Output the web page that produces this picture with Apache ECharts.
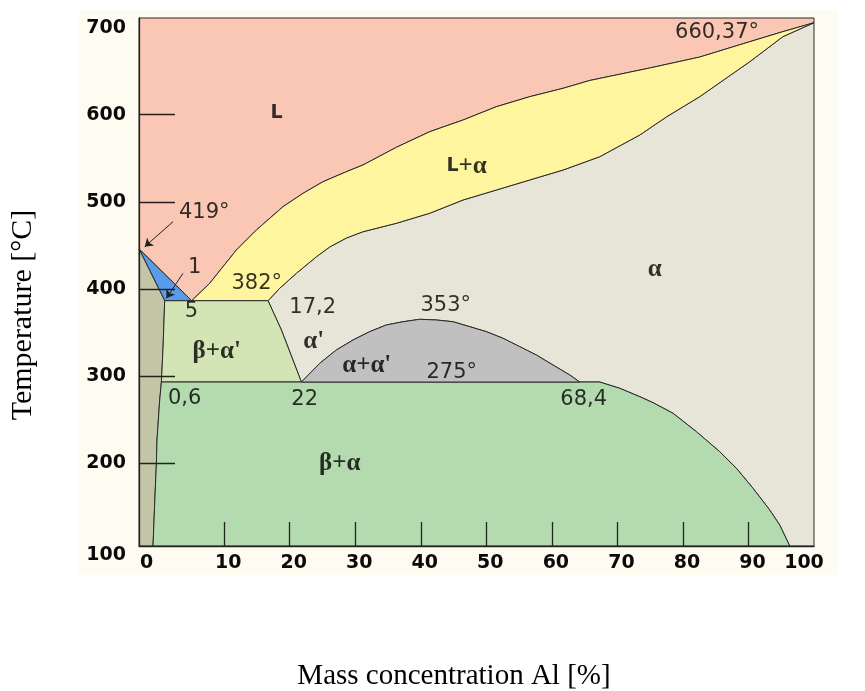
<!DOCTYPE html>
<html>
<head>
<meta charset="utf-8">
<script src="https://cdn.jsdelivr.net/npm/echarts@6/dist/echarts.min.js"></script>
<style>
html,body{margin:0;padding:0;background:#ffffff;}
#chart{width:865px;height:691px;}
</style>
</head>
<body>
<div id="chart"></div>
<script>
// ---------- tick values ----------
const xTickValues = [0, 10, 20, 30, 40, 50, 60, 70, 80, 90, 100];
const xTickMarks = [10, 20, 30, 40, 50, 60, 70, 80, 90];
const yTickMarks = [200, 300, 400, 500, 600];
const yLabelValues = [200, 300, 400, 500, 600, 700];
const yBottomLabel = [100];

// ---------- characteristic points ----------
const zincMelt = [-3, 446];            // 419°
const eutecticPt = [5.04, 386.5];      // 5 %, 382°
const betaEutecticPt = [0.92, 386.5];  // 1 %
const alMelt = [100, 705.6];           // 660,37°

// ---------- boundary curves ----------
const liquidusAl = [
  [5.04, 386.5], [7.79, 406.5], [11.86, 444.7], [14.92, 467.7], [18.97, 494.4],
  [22.03, 509.8], [25.08, 523.1], [28.65, 534.6], [31.18, 542.3], [36.28, 562.6],
  [41.36, 580.5], [46.44, 593.9], [51.54, 609.2], [56.62, 620.7], [61.7, 630.3],
  [65.78, 639.3], [74.93, 653.6], [82.56, 666.2], [90.19, 683.8], [95.23, 695.3],
  [100, 705.6]
];
const solidusAl = [
  [16.69, 386.5], [18.47, 400.8], [21.02, 418], [24.07, 437], [26.1, 448.2],
  [28.65, 458.5], [31.18, 465.7], [36.28, 475.4], [41.36, 486.9], [46.44, 502.1],
  [51.54, 513.6], [56.62, 525.1], [61.7, 536.5], [67.3, 551.8], [73.41, 576.7],
  [77.53, 597.7], [82.56, 620.7], [90.19, 660.8], [95.23, 689.5], [100, 705.6]
];
const alphaPrimeLine = [[16.69, 386.5], [18.73, 352.9], [21.78, 293.2]];
const miscibilityDome = [
  [21.78, 293.2], [24.58, 314.7], [27.12, 330], [29.66, 341.4], [32.2, 351],
  [34.75, 358.7], [37.29, 362.4], [39.84, 365.2], [42.38, 364.4], [44.92, 362.4],
  [47.47, 356.7], [50.01, 351], [52.55, 343.4], [55.1, 333.8], [57.64, 324.2],
  [60.18, 312.7], [62.73, 301.3], [64.25, 293.2]
];
const alphaSolvus = [
  [67.3, 293.2], [70.36, 286], [73.41, 276.4], [75.44, 269.5], [78.49, 257.3],
  [82.06, 236.2], [85.62, 213.2], [88.16, 194.2], [90.7, 171.2], [93.25, 146.3],
  [94.77, 129.1], [96.3, 105]
];
const betaSolvusUpper = [[0.92, 386.5], [0.69, 335.7], [0.42, 293.2]];
const betaSolvusLower = [[0.42, 293.2], [0.16, 272.6], [-0.25, 226.7], [-0.34, 200.3], [-0.6, 154.4], [-0.86, 105]];

// ---------- annotations [x, y, text] ----------
const valueNotes = [
  [85.2, 693.8, '660,37°'], [6.95, 487.2, '419°'], [5.5, 424.1, '1'],
  [14.96, 405.7, '382°'], [5.0, 373.9, '5'], [23.5, 378.2, '17,2'],
  [43.8, 380.5, '353°'], [44.72, 303.6, '275°'], [22.29, 272.6, '22'],
  [64.86, 272.6, '68,4'], [3.97, 273.7, '0,6']
];
const phaseNotes = [
  [18.0, 602, 'L'], [47.0, 541, 'L+α'], [75.7, 421.8, 'α'], [23.66, 339.1, "α'"],
  [31.75, 311.6, "α+α'"], [8.86, 327.7, "β+α'"], [27.63, 199.1, 'β+α']
];
const arrows = [
  [[2.19, 477.2], [-2.13, 448.5]],
  [[3.71, 418.0], [1.18, 389.3]]
];

// ---------- axis extents ----------
const X0 = -3, X1 = 100, Y0 = 105, Y1 = 711;

const rev = a => a.slice().reverse();
const regions = [
  { color: '#E7E5D7', pts: [...solidusAl, [X1, Y0], ...rev(alphaSolvus), ...rev(miscibilityDome), ...rev(alphaPrimeLine)] },
  { color: '#F9C7B3', pts: [[X0, Y1], [X1, Y1], ...rev(liquidusAl), zincMelt] },
  { color: '#FFF59E', pts: [...liquidusAl, ...rev(solidusAl)] },
  { color: '#589CEB', pts: [zincMelt, eutecticPt, betaEutecticPt] },
  { color: '#C3C6A6', pts: [zincMelt, ...betaSolvusUpper, ...betaSolvusLower.slice(1), [X0, Y0]] },
  { color: '#D3E5B5', pts: [...alphaPrimeLine, ...rev(betaSolvusUpper)] },
  { color: '#B4DAAF', pts: [...alphaSolvus, ...rev(betaSolvusLower)] },
  { color: '#C0C0C0', pts: [...miscibilityDome] }
];

const tickFont = { fontFamily: 'DejaVu Sans', fontWeight: 'bold', fontSize: 19, color: '#0a0a0a' };

function phaseRich(t) {
  let out = '';
  for (const ch of t) {
    out += /[A-Z]/.test(ch) ? '{s|' + ch + '}' : '{g|' + ch + '}';
  }
  return out;
}

const chart = echarts.init(document.getElementById('chart'), null, { renderer: 'canvas' });
chart.setOption({
  animation: false,
  backgroundColor: '#ffffff',
  graphic: {
    elements: [
      { type: 'rect', z: -10, shape: { x: 79, y: 10, width: 759, height: 565 }, style: { fill: '#FEFCF0' } },
      { type: 'text', z: 100, x: 23, y: 315, rotation: Math.PI / 2,
        style: { text: 'Temperature [°C]', fontFamily: 'Liberation Serif', fontSize: 30, fill: '#000',
                 textAlign: 'center', textVerticalAlign: 'middle', align: 'center', verticalAlign: 'middle' } },
      { type: 'text', z: 100, x: 454, y: 676,
        style: { text: 'Mass concentration Al [%]', fontFamily: 'Liberation Serif', fontSize: 29, fill: '#000',
                 textAlign: 'center', textVerticalAlign: 'middle', align: 'center', verticalAlign: 'middle' } }
    ]
  },
  grid: { left: 139, top: 18, width: 675, height: 528, show: false, containLabel: false },
  xAxis: {
    type: 'value', min: X0, max: X1, z: 10,
    axisLine: { show: true, onZero: false, lineStyle: { color: '#222', width: 1.3 } },
    axisTick: { show: true, inside: true, length: 24, customValues: xTickMarks, lineStyle: { color: '#222', width: 1.3 } },
    axisLabel: {
      show: true, customValues: xTickValues, margin: 8,
      ...tickFont,
      formatter: v => v === 0 ? '{a|0}' : (v === 100 ? '{b|100}' : '{c|' + v + '}'),
      rich: {
        a: { ...tickFont, padding: [0, 24, 0, 0] },
        b: { ...tickFont, padding: [0, 20, 0, 0] },
        c: { ...tickFont, padding: [0, 0, 0, 8] }
      }
    },
    splitLine: { show: false }
  },
  yAxis: [
    {
      type: 'value', min: Y0, max: Y1, z: 10,
      axisLine: { show: true, onZero: false, lineStyle: { color: '#222', width: 1.3 } },
      axisTick: { show: true, inside: true, length: 36, customValues: yTickMarks, lineStyle: { color: '#222', width: 1.3 } },
      axisLabel: { show: true, customValues: yLabelValues, margin: 13, ...tickFont },
      splitLine: { show: false }
    },
    {
      type: 'value', min: 100, max: Y1, z: 10, position: 'left',
      axisLine: { show: false, onZero: false }, axisTick: { show: false }, splitLine: { show: false },
      axisLabel: { show: true, customValues: yBottomLabel, margin: 13, verticalAlign: 'top', ...tickFont }
    }
  ],
  series: [
    {
      type: 'custom', coordinateSystem: 'cartesian2d', xAxisIndex: 0, yAxisIndex: 0,
      silent: true, z: 2,
      data: regions.map(r => r.pts[0]),
      renderItem: (params, api) => {
        const r = regions[params.dataIndex];
        return {
          type: 'polygon',
          shape: { points: r.pts.map(p => api.coord(p)) },
          style: { fill: r.color, stroke: '#2a2a2a', lineWidth: 1 }
        };
      }
    },
    {
      type: 'lines', coordinateSystem: 'cartesian2d', xAxisIndex: 0, yAxisIndex: 0, z: 5, silent: true,
      symbol: ['none', 'arrow'], symbolSize: 8,
      lineStyle: { color: '#222', width: 1, opacity: 1 },
      data: arrows.map(a => ({ coords: a }))
    },
    {
      type: 'scatter', xAxisIndex: 0, yAxisIndex: 0, z: 6, silent: true,
      symbolSize: 0.1, itemStyle: { color: 'transparent' },
      data: valueNotes,
      label: {
        show: true, position: 'inside', formatter: p => p.data[2],
        fontFamily: 'DejaVu Sans', fontSize: 21, color: '#000', textBorderWidth: 0,
        align: 'center', verticalAlign: 'middle'
      },
      emphasis: { disabled: true }
    },
    {
      type: 'scatter', xAxisIndex: 0, yAxisIndex: 0, z: 6, silent: true,
      symbolSize: 0.1, itemStyle: { color: 'transparent' },
      data: phaseNotes,
      label: {
        show: true, position: 'inside', formatter: p => phaseRich(p.data[2]),
        align: 'center', verticalAlign: 'middle', textBorderWidth: 0,
        rich: {
          s: { fontFamily: 'DejaVu Sans', fontWeight: 'bold', fontSize: 19, color: '#000', textBorderWidth: 0 },
          g: { fontFamily: 'Liberation Serif', fontWeight: 'bold', fontSize: 25, color: '#000', textBorderWidth: 0 }
        }
      },
      emphasis: { disabled: true }
    }
  ]
});
</script>
</body>
</html>
